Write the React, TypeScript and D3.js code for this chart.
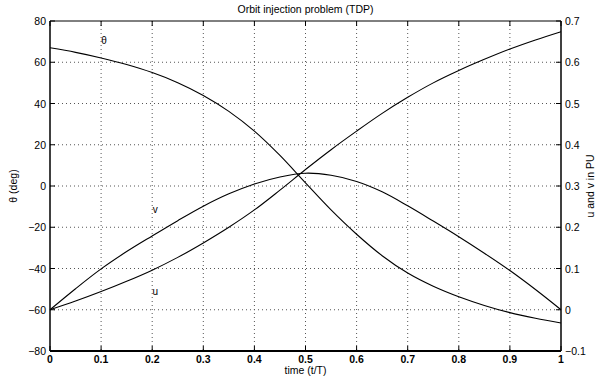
import React from "react";
import * as d3 from "d3";

const timeSteps = [0, 0.05, 0.1, 0.15, 0.2, 0.25, 0.3, 0.35, 0.4, 0.45, 0.5, 0.55, 0.6, 0.65, 0.7, 0.75, 0.8, 0.85, 0.9, 0.95, 1];
const thetaDeg = [67.0, 64.8, 62.1, 58.9, 55.0, 50.1, 43.9, 36.2, 26.6, 14.8, 1.5, -11.6, -23.4, -33.8, -42.2, -48.6, -53.7, -57.9, -61.4, -64.1, -66.4];
const uPU = [0, 0.021, 0.044, 0.069, 0.096, 0.127, 0.162, 0.2, 0.242, 0.29, 0.34, 0.388, 0.433, 0.476, 0.515, 0.55, 0.58, 0.607, 0.632, 0.654, 0.674];
const vPU = [0, 0.051, 0.099, 0.141, 0.179, 0.216, 0.251, 0.281, 0.305, 0.322, 0.331, 0.326, 0.311, 0.286, 0.252, 0.215, 0.177, 0.137, 0.095, 0.049, 0];

const xTicks = [0, 0.1, 0.2, 0.3, 0.4, 0.5, 0.6, 0.7, 0.8, 0.9, 1];
const leftTicks = [-80, -60, -40, -20, 0, 20, 40, 60, 80];
const rightTicks = [-0.1, 0, 0.1, 0.2, 0.3, 0.4, 0.5, 0.6, 0.7];

const W = 602, H = 379;
const L = 50, R = 561, T = 21, B = 351;
const FONT = "'Liberation Sans', Arial, Helvetica, sans-serif";

function fmt(v: number): string {
  const s = String(Math.round(v * 10) / 10);
  return s.replace("-", "\u2212");
}

export default function App() {
  const x = d3.scaleLinear().domain([0, 1]).range([L, R]);
  const yL = d3.scaleLinear().domain([-80, 80]).range([B, T]);
  const yR = d3.scaleLinear().domain([-0.1, 0.7]).range([B, T]);

  const lineL = d3.line<number>().x((_, i) => x(timeSteps[i])).y((d) => yL(d)).curve(d3.curveCatmullRom.alpha(0.5));
  const lineR = d3.line<number>().x((_, i) => x(timeSteps[i])).y((d) => yR(d)).curve(d3.curveCatmullRom.alpha(0.5));

  const tl = 5;
  return (
    <svg width={W} height={H} style={{ position: "absolute", left: 0, top: 0, background: "#fff" }} fontFamily={FONT}>
      <rect x={0} y={0} width={W} height={H} fill="#fff" />
      {/* grid */}
      <g stroke="#555" strokeWidth={1} strokeDasharray="1,3">
        {xTicks.slice(1, -1).map((t) => (
          <line key={"gx" + t} x1={x(t)} x2={x(t)} y1={T} y2={B} />
        ))}
        {leftTicks.slice(1, -1).map((t) => (
          <line key={"gy" + t} x1={L} x2={R} y1={yL(t)} y2={yL(t)} />
        ))}
      </g>
      {/* curves */}
      <g fill="none" stroke="#000" strokeWidth={1.1}>
        <path d={lineL(thetaDeg) || ""} />
        <path d={lineR(uPU) || ""} />
        <path d={lineR(vPU) || ""} />
      </g>
      {/* ticks */}
      <g stroke="#000" strokeWidth={1}>
        {xTicks.map((t) => (
          <g key={"tx" + t}>
            <line x1={x(t)} x2={x(t)} y1={B} y2={B - tl} />
            <line x1={x(t)} x2={x(t)} y1={T} y2={T + tl} />
          </g>
        ))}
        {leftTicks.map((t) => (
          <line key={"tl" + t} x1={L} x2={L + tl} y1={yL(t)} y2={yL(t)} />
        ))}
        {rightTicks.map((t) => (
          <line key={"tr" + t} x1={R} x2={R - tl} y1={yR(t)} y2={yR(t)} />
        ))}
      </g>
      {/* box */}
      <line x1={L} x2={R} y1={T} y2={T} stroke="#000" strokeWidth={1} />
      <line x1={L} x2={R} y1={B} y2={B} stroke="#000" strokeWidth={2} />
      <line x1={L} x2={L} y1={T} y2={B} stroke="#000" strokeWidth={1.5} />
      <line x1={R} x2={R} y1={T} y2={B} stroke="#000" strokeWidth={1.5} />
      {/* tick labels */}
      <g fontSize={10.5} fill="#000">
        {xTicks.map((t) => (
          <text key={"lx" + t} x={x(t)} y={B + 12} textAnchor="middle" fontWeight="bold">
            {fmt(t)}
          </text>
        ))}
        {leftTicks.map((t) => (
          <text key={"ll" + t} x={L - 4} y={yL(t) + 4} textAnchor="end">
            {fmt(t)}
          </text>
        ))}
        {rightTicks.map((t) => (
          <text key={"lr" + t} x={R + 4} y={yR(t) + 4} textAnchor="start">
            {fmt(t)}
          </text>
        ))}
      </g>
      {/* titles */}
      <text x={(L + R) / 2} y={13} textAnchor="middle" fontSize={10.5}>Orbit injection problem (TDP)</text>
      <text x={(L + R) / 2} y={374} textAnchor="middle" fontSize={10.5}>time (t/T)</text>
      <text transform={`translate(17,${(T + B) / 2}) rotate(-90)`} textAnchor="middle" fontSize={10.5}>θ (deg)</text>
      <text transform={`translate(594,${(T + B) / 2}) rotate(-90)`} textAnchor="middle" fontSize={10.5}>u and v in PU</text>
      {/* curve labels */}
      <text x={x(0.1) + 3} y={yL(69)} textAnchor="middle" fontSize={10}>θ</text>
      <text x={x(0.2) + 3} y={yR(0.235)} textAnchor="middle" fontSize={10}>v</text>
      <text x={x(0.2) + 3} y={yR(0.036)} textAnchor="middle" fontSize={10}>u</text>
    </svg>
  );
}
